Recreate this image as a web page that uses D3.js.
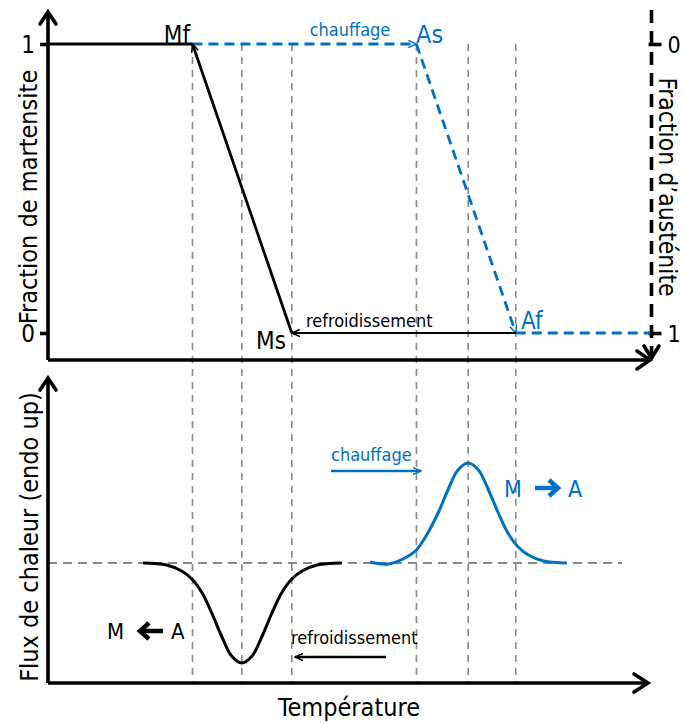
<!DOCTYPE html>
<html>
<head>
<meta charset="utf-8">
<script src="https://cdn.jsdelivr.net/npm/d3@7"></script>
<style>
  html, body { margin: 0; padding: 0; background: #fff; }
  svg { display: block; }
  text { font-family: "DejaVu Sans Condensed", "DejaVu Sans", sans-serif; }
</style>
</head>
<body>
<svg id="chart" width="683" height="724"></svg>
<script>
// ---------- data ----------
// characteristic temperatures (arbitrary temperature units, 0..100)
const transitionNames = ["Mf", "Mp", "Ms", "As", "Ap", "Af"];
const transitionTemps = [24, 32.2, 40.5, 61.2, 69.8, 77.7];

// martensite fraction, cooling path (read right -> left)
const coolingFracT = [77.7, 40.5, 24, 0];
const coolingFrac  = [0, 0, 1, 1];
// martensite fraction, heating path (read left -> right)
const heatingFracT = [24, 61.2, 77.7, 100];
const heatingFrac  = [1, 1, 0, 0];

// heat flux (endo up), cooling peak (exotherm)
const coolingFluxT = [15.8, 19.7, 22.2, 23.9, 25.6, 27.2, 28.9, 30.5, 32.2, 33.9, 35.5, 37.2, 38.8, 40.5, 42.2, 44.7, 48.8];
const coolingFlux  = [0, -0.02, -0.08, -0.16, -0.3, -0.5, -0.74, -0.93, -1, -0.93, -0.74, -0.5, -0.3, -0.16, -0.08, -0.02, 0];
// heat flux (endo up), heating peak (endotherm)
const heatingFluxT = [53.5, 56.6, 59.6, 61.2, 62.9, 64.8, 66.5, 68.1, 69.8, 71.5, 73.1, 74.8, 76.4, 78.1, 79.8, 82.3, 86.2];
const heatingFlux  = [0.01, -0.01, 0.06, 0.13, 0.28, 0.5, 0.74, 0.93, 1, 0.93, 0.74, 0.5, 0.3, 0.16, 0.08, 0.02, 0];

const martensiteTicks = [0, 1];
const austeniteTicks  = [0, 1];

// ---------- layout ----------
const blue = "#0070C0";
const grey = "#8a8a8a";
const svg = d3.select("#chart");

const x = d3.scaleLinear().domain([0, 100]).range([48, 650]);
const yTop = d3.scaleLinear().domain([0, 1]).range([333, 44]);
const yAus = d3.scaleLinear().domain([0, 1]).range([44, 333]);
const yBot = d3.scaleLinear().domain([-1, 1]).range([663, 463]);

const topAxisY = 360, topAxisTop = 12;
const botAxisY = 683, botAxisTop = 378;

// markers
const defs = svg.append("defs");
function marker(id, color) {
  defs.append("marker")
    .attr("id", id)
    .attr("viewBox", "0 -5 10 10")
    .attr("refX", 9).attr("refY", 0)
    .attr("markerWidth", 9).attr("markerHeight", 9)
    .attr("markerUnits", "userSpaceOnUse")
    .attr("orient", "auto")
    .append("path")
    .attr("d", "M0,-4L9,0L0,4")
    .attr("fill", "none")
    .attr("stroke", color)
    .attr("stroke-width", 1.6);
}
marker("arrBlack", "#000");
marker("arrBlue", blue);

// ---------- grid lines ----------
svg.append("g").selectAll("line")
  .data(transitionTemps)
  .join("line")
  .attr("x1", d => x(d)).attr("x2", d => x(d))
  .attr("y1", yTop(1)).attr("y2", botAxisY)
  .attr("stroke", grey).attr("stroke-width", 1.6)
  .attr("stroke-dasharray", "7,6");

svg.append("line")
  .attr("x1", x(0)).attr("x2", 622)
  .attr("y1", yBot(0)).attr("y2", yBot(0))
  .attr("stroke", grey).attr("stroke-width", 1.8)
  .attr("stroke-dasharray", "9,6");

// ---------- axes ----------
function chevron(g, x0, y0, dir, w, h) {
  let d;
  if (dir === "up") d = `M${x0 - w},${y0 + h}L${x0},${y0}L${x0 + w},${y0 + h}`;
  if (dir === "down") d = `M${x0 - w},${y0 - h}L${x0},${y0}L${x0 + w},${y0 - h}`;
  if (dir === "right") d = `M${x0 - h},${y0 - w}L${x0},${y0}L${x0 - h},${y0 + w}`;
  g.append("path").attr("d", d).attr("fill", "none").attr("stroke", "#000")
    .attr("stroke-width", 3.6).attr("stroke-linejoin", "miter").attr("stroke-linecap", "round");
}
const axes = svg.append("g");
// top panel
axes.append("line").attr("x1", x(0)).attr("x2", x(0)).attr("y1", topAxisTop + 1).attr("y2", topAxisY)
  .attr("stroke", "#000").attr("stroke-width", 3.6);
axes.append("line").attr("x1", x(0)).attr("x2", x(100) - 1).attr("y1", topAxisY).attr("y2", topAxisY)
  .attr("stroke", "#000").attr("stroke-width", 3.6);
chevron(axes, x(0), topAxisTop, "up", 8, 12);
chevron(axes, x(100), topAxisY, "right", 9, 13);
// right dashed axis
axes.append("line").attr("x1", x(100) + 1.5).attr("x2", x(100) + 1.5).attr("y1", 10).attr("y2", topAxisY - 2)
  .attr("stroke", "#000").attr("stroke-width", 3.6).attr("stroke-dasharray", "13,8");
chevron(axes, x(100) + 1.5, topAxisY - 2, "down", 7.5, 12);
// bottom panel
axes.append("line").attr("x1", x(0)).attr("x2", x(0)).attr("y1", botAxisTop + 1).attr("y2", botAxisY)
  .attr("stroke", "#000").attr("stroke-width", 3.6);
axes.append("line").attr("x1", x(0)).attr("x2", 647).attr("y1", botAxisY).attr("y2", botAxisY)
  .attr("stroke", "#000").attr("stroke-width", 3.6);
chevron(axes, x(0), botAxisTop, "up", 8, 12);
chevron(axes, 648, botAxisY, "right", 9, 14);

// tick axes
const leftAxis = d3.axisLeft(yTop).tickValues(martensiteTicks).tickFormat(d3.format("d")).tickSize(8).tickPadding(5);
const gl = svg.append("g").attr("transform", `translate(${x(0)},0)`).call(leftAxis);
gl.select(".domain").remove();
gl.selectAll(".tick line").attr("stroke", "#000").attr("stroke-width", 3.6);
gl.selectAll(".tick text").attr("font-size", 24).attr("fill", "#000")
  .attr("font-family", "DejaVu Sans Condensed, DejaVu Sans, sans-serif").attr("dy", "0.36em");

const rightAxis = d3.axisRight(yAus).tickValues(austeniteTicks).tickFormat(d3.format("d")).tickSize(10).tickPadding(6);
const gr = svg.append("g").attr("transform", `translate(${x(100) + 1.5},0)`).call(rightAxis);
gr.select(".domain").remove();
gr.selectAll(".tick line").attr("x1", -3).attr("stroke", "#000").attr("stroke-width", 3.6);
gr.selectAll(".tick text").attr("font-size", 23).attr("fill", "#000")
  .attr("font-family", "DejaVu Sans Condensed, DejaVu Sans, sans-serif").attr("dy", "0.36em");

// ---------- top panel curves ----------
const fracLine = d3.line().x(d => x(d[0])).y(d => yTop(d[1]));
const coolPts = coolingFracT.map((t, i) => [t, coolingFrac[i]]);
const heatPts = heatingFracT.map((t, i) => [t, heatingFrac[i]]);

// heating (blue dashed) - drawn first
heatPts.slice(0, -1).forEach((p, i) => {
  svg.append("path")
    .attr("d", fracLine([p, heatPts[i + 1]]))
    .attr("fill", "none").attr("stroke", blue).attr("stroke-width", 2.8)
    .attr("stroke-dasharray", "10,6")
    .attr("marker-end", i < 2 ? "url(#arrBlue)" : null);
});
// cooling (black solid)
coolPts.slice(0, -1).forEach((p, i) => {
  svg.append("path")
    .attr("d", fracLine([p, coolPts[i + 1]]))
    .attr("fill", "none").attr("stroke", "#000").attr("stroke-width", i === 0 ? 2.2 : 2.8)
    .attr("marker-end", i < 2 ? "url(#arrBlack)" : null);
});

// ---------- bottom panel curves ----------
const fluxLine = d3.line().x(d => x(d[0])).y(d => yBot(d[1])).curve(d3.curveCatmullRom.alpha(0.5));
svg.append("path")
  .attr("d", fluxLine(coolingFluxT.map((t, i) => [t, coolingFlux[i]])))
  .attr("fill", "none").attr("stroke", "#000").attr("stroke-width", 3);
svg.append("path")
  .attr("d", fluxLine(heatingFluxT.map((t, i) => [t, heatingFlux[i]])))
  .attr("fill", "none").attr("stroke", blue).attr("stroke-width", 3);

// ---------- labels ----------
function txt(s, px, py, opts = {}) {
  return svg.append("text").text(s)
    .attr("x", px).attr("y", py)
    .attr("font-size", opts.size || 24)
    .attr("fill", opts.color || "#000")
    .attr("text-anchor", opts.anchor || "start")
    .attr("transform", opts.transform || null);
}
txt("Mf", 190, 43, { anchor: "end" });
txt("Ms", 256, 349);
txt("As", 416, 43, { color: blue, size: 25 });
txt("Af", 521, 329, { color: blue });
txt("chauffage", 350, 36, { anchor: "middle", color: blue, size: 18 });
txt("refroidissement", 306, 327, { size: 18 });

// axis titles
svg.append("text").text("Fraction de martensite")
  .attr("transform", "translate(37,197) rotate(-90)")
  .attr("text-anchor", "middle").attr("font-size", 25).attr("fill", "#000");
svg.append("text").text("Fraction d’austénite")
  .attr("transform", "translate(659,187) rotate(90)")
  .attr("text-anchor", "middle").attr("font-size", 24.5).attr("fill", "#000");
svg.append("text").text("Flux de chaleur (endo up)")
  .attr("transform", "translate(38,537) rotate(-90)")
  .attr("text-anchor", "middle").attr("font-size", 25).attr("fill", "#000");
svg.append("text").text("Température")
  .attr("x", 349).attr("y", 716)
  .attr("text-anchor", "middle").attr("font-size", 25).attr("fill", "#000");

// bottom annotations
txt("chauffage", 331, 461, { color: blue, size: 18 });
svg.append("line").attr("x1", 331).attr("x2", 421).attr("y1", 471).attr("y2", 471)
  .attr("stroke", blue).attr("stroke-width", 2.6).attr("marker-end", "url(#arrBlue)");
txt("refroidissement", 291, 644, { size: 18 });
svg.append("line").attr("x1", 386).attr("x2", 295).attr("y1", 657).attr("y2", 657)
  .attr("stroke", "#000").attr("stroke-width", 2.6).attr("marker-end", "url(#arrBlack)");

// bold arrows  M -> A / M <- A
function boldArrow(x0, x1, yy, color) {
  const dir = x1 > x0 ? 1 : -1;
  svg.append("path")
    .attr("d", `M${x0},${yy}L${x1 - dir * 3},${yy}`)
    .attr("stroke", color).attr("stroke-width", 4.5).attr("fill", "none");
  svg.append("path")
    .attr("d", `M${x1 - dir * 9},${yy - 8}L${x1},${yy}L${x1 - dir * 9},${yy + 8}`)
    .attr("stroke", color).attr("stroke-width", 4.5).attr("fill", "none")
    .attr("stroke-linejoin", "miter");
}
txt("M", 504, 497, { color: blue, size: 23 });
boldArrow(535, 558, 488, blue);
txt("A", 568, 497, { color: blue, size: 23 });

txt("M", 107, 639, { size: 22 });
boldArrow(163, 140, 631, "#000");
txt("A", 171, 639, { size: 22 });
</script>
</body>
</html>
